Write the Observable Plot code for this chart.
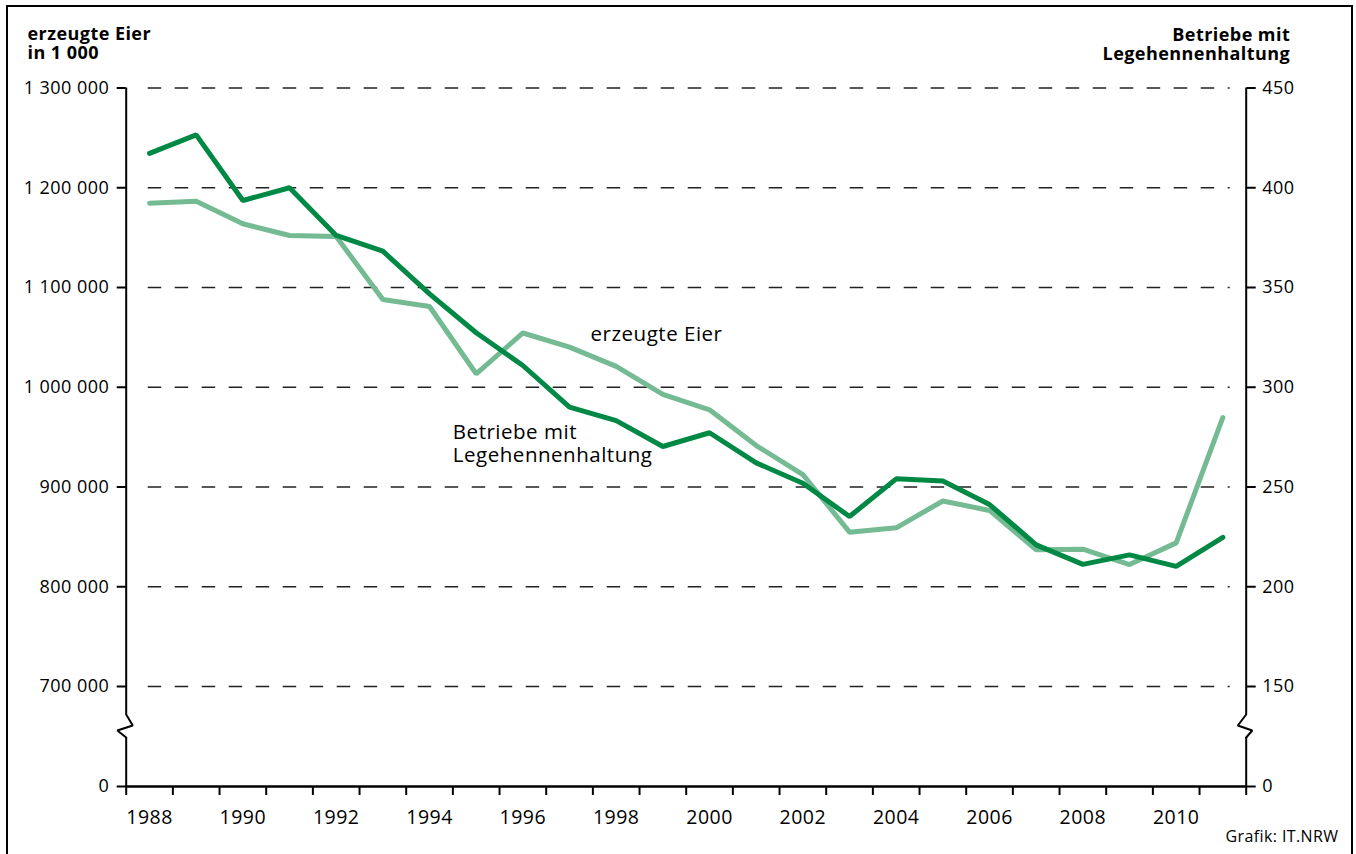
<!DOCTYPE html>
<html><head><meta charset="utf-8">
<script src="https://cdn.jsdelivr.net/npm/d3@7"></script>
<script src="https://cdn.jsdelivr.net/npm/@observablehq/plot@0.6"></script>
<style>
html,body{margin:0;padding:0;background:#fff;}
#wrap{position:relative;width:1356px;height:854px;overflow:hidden;}
#frame{position:absolute;left:6px;top:5px;width:1347px;height:900px;border:2px solid #000;box-sizing:border-box;pointer-events:none;}
#wrap svg{position:absolute;left:0;top:0;}
#wrap svg text{letter-spacing:0.025em;}
</style></head>
<body><div id="wrap"><div id="frame"></div></div>
<script>
const years = [1988,1989,1990,1991,1992,1993,1994,1995,1996,1997,1998,1999,2000,2001,2002,2003,2004,2005,2006,2007,2008,2009,2010,2011];
// erzeugte Eier in 1 000 (left axis)
const eier = [1184500,1186500,1163900,1152100,1151100,1088000,1081000,1013500,1054400,1040200,1020900,992800,977400,941600,912500,854700,859100,886000,876500,837000,837600,822200,844000,969700];
// Betriebe mit Legehennenhaltung (right axis)
const betriebe = [417.2,426.5,393.6,400,376.1,368.2,346.8,327.3,310.9,290,283.3,270.3,277.2,262.1,251.9,235.2,254.1,253,241.2,221,211.2,216,210.2,224.8];
const leftTicks = [0,700000,800000,900000,1000000,1100000,1200000,1300000];
const gridTicks = [700000,800000,900000,1000000,1100000,1200000,1300000];
const rightTicks = [0,150,200,250,300,350,400,450];
const yearLabels = [1988,1990,1992,1994,1996,1998,2000,2002,2004,2006,2008,2010];
const yearBounds = [1987.5,1988.5,1989.5,1990.5,1991.5,1992.5,1993.5,1994.5,1995.5,1996.5,1997.5,1998.5,1999.5,2000.5,2001.5,2002.5,2003.5,2004.5,2005.5,2006.5,2007.5,2008.5,2009.5,2010.5,2011.5];
// axis break symbol (data units)
const breakLeft = [[1987.5,504000],[1987.64,427000],[1987.31,392000],[1987.5,343000]];
const breakRight = [[2011.5,504000],[2011.32,427000],[2011.63,392000],[2011.5,343000]];
const labelEier = [{x:1997.45, y:1053300, text:"erzeugte Eier"}];
const labelBetriebe = [{x:1994.5, y:965000, text:"Betriebe mit\nLegehennenhaltung"}];

const toLeft = r => r <= 150 ? r / 150 * 700000 : 700000 + (r - 150) * 2000;
const fromLeft = v => v <= 700000 ? v / 700000 * 150 : 150 + (v - 700000) / 2000;
const fmtLeft = v => d3.format(",")(v).replace(/,/g, " ");

const dataE = years.map((y, i) => ({year: y, v: eier[i]}));
const dataB = years.map((y, i) => ({year: y, v: toLeft(betriebe[i])}));

const DARK = "#008944", LIGHT = "#74BA92";
const FONT = "'Open Sans', sans-serif";

const chart = Plot.plot({
  width: 1356, height: 854,
  marginLeft: 125.7, marginRight: 110.3, marginTop: 87.5, marginBottom: 68,
  style: {fontFamily: FONT, fontSize: "18px", color: "#000", background: "transparent", overflow: "visible"},
  x: {type: "linear", domain: [1987.5, 2011.5]},
  y: {type: "linear", domain: [0, 700000, 1300000], range: [786, 686, 87.5]},
  marks: [
    Plot.ruleY(gridTicks, {stroke: "#222", strokeWidth: 1.3, strokeDasharray: "13.5,13.5", insetLeft: 22, insetRight: 16}),
    Plot.ruleX([1987.5, 2011.5], {y1: 504000, y2: 1300000, strokeWidth: 2}),
    Plot.ruleX([1987.5, 2011.5], {y1: 0, y2: 343000, strokeWidth: 2}),
    Plot.line(breakLeft, {x: d => d[0], y: d => d[1], strokeWidth: 2, strokeLinejoin: "miter"}),
    Plot.line(breakRight, {x: d => d[0], y: d => d[1], strokeWidth: 2, strokeLinejoin: "miter"}),
    Plot.ruleY([0], {strokeWidth: 2.3}),
    Plot.axisY(leftTicks, {anchor: "left", tickSize: 9, tickPadding: 8, strokeWidth: 2, fontSize: 18, tickFormat: fmtLeft, label: null}),
    Plot.axisY(rightTicks.map(toLeft), {anchor: "right", tickSize: 9, tickPadding: 7, strokeWidth: 2, fontSize: 18, tickFormat: v => String(Math.round(fromLeft(v))), label: null}),
    Plot.axisX(yearBounds, {tickSize: 9, strokeWidth: 2, tickFormat: () => "", label: null}),
    Plot.axisX(yearLabels, {tickSize: 0, tickPadding: 24, fontSize: 19.5, tickFormat: d => String(d), label: null}),
    Plot.line(dataE, {x: "year", y: "v", stroke: LIGHT, strokeWidth: 5, strokeLinejoin: "miter", strokeLinecap: "round"}),
    Plot.line(dataB, {x: "year", y: "v", stroke: DARK, strokeWidth: 5, strokeLinejoin: "miter", strokeLinecap: "round"}),
    Plot.text(labelEier, {x: "x", y: "y", text: "text", textAnchor: "start", lineAnchor: "middle", fontSize: 20.5}),
    Plot.text(labelBetriebe, {x: "x", y: "y", text: "text", textAnchor: "start", lineAnchor: "top", fontSize: 20.5, lineHeight: 1.15}),
    Plot.text(["erzeugte Eier\nin 1 000"], {frameAnchor: "top-left", dx: -98.7, dy: -62.5, textAnchor: "start", lineAnchor: "top", fontSize: 18, fontWeight: "bold", lineHeight: 1.1}),
    Plot.text(["Betriebe mit\nLegehennenhaltung"], {frameAnchor: "top-right", dx: 44, dy: -61.5, textAnchor: "end", lineAnchor: "top", fontSize: 18, fontWeight: "bold", lineHeight: 1.1}),
    Plot.text(["Grafik: IT.NRW"], {frameAnchor: "bottom-right", dx: 92.3, dy: 44.3, textAnchor: "end", lineAnchor: "top", fontSize: 16})
  ]
});
document.getElementById("wrap").insertBefore(chart, document.getElementById("frame"));
</script>
</body></html>
